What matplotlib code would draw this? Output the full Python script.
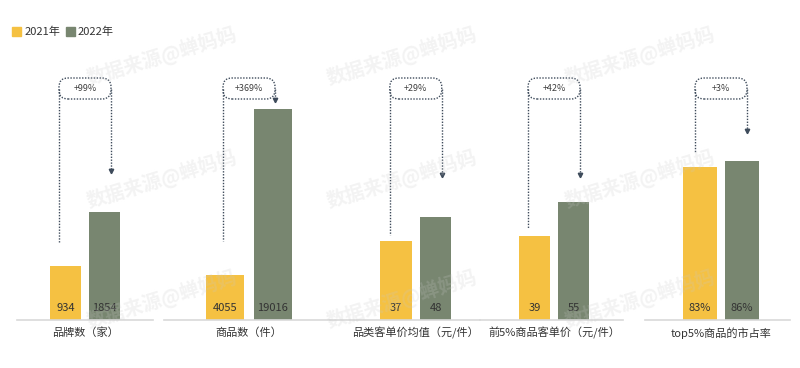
import matplotlib
matplotlib.use("Agg")
import matplotlib.pyplot as plt
from matplotlib.patches import Patch, FancyBboxPatch
from matplotlib.lines import Line2D
from matplotlib.transforms import Affine2D, ScaledTranslation, blended_transform_factory

plt.rcParams['font.family'] = ['Noto Sans CJK SC', 'DejaVu Sans']

# 数据
categories = ["品牌数（家）", "商品数（件）", "品类客单价均值（元/件）",
              "前5%商品客单价（元/件）", "top5%商品的市占率"]
years = ["2021年", "2022年"]
v2021 = [934, 4055, 37, 39, 83]
v2022 = [1854, 19016, 48, 55, 86]
growth = ["+99%", "+369%", "+29%", "+42%", "+3%"]
suffix = ["", "", "", "", "%"]

# 版式（像素，原图 800x368）
W, H = 800, 368
base_y, top_y = 320, 60
# 每组: 轴左, 轴右, 2021柱中心, 两柱间距
axes_px = [(17, 153, 65.5, 39), (164, 330, 225, 48), (330, 480, 396, 39.5),
           (480, 623, 534.5, 39), (645, 790, 700, 42)]
ymax = [4460, 23430, 121.2, 121.2, 140.6]
left_end = [78, 79, 85, 91, 168]    # 左虚线下端，距底线
tip_end = [147, 218, 143, 143, 187]  # 箭头尖，距底线

c21 = "#F5C142"
c22 = "#788670"
lc = "#3E4B5B"
txt = "#333333"

fig = plt.figure(figsize=(W / 100, H / 100), dpi=100)
fig.patch.set_facecolor("white")
pxs = Affine2D().scale(fig.dpi / 100)

for i, (l, r, cy, sp) in enumerate(axes_px):
    ax = fig.add_axes([l / W, (H - base_y) / H, (r - l) / W, (base_y - top_y) / H])
    vals = [v2021[i], v2022[i]]
    ax.bar([0, 1], vals, width=0.8, color=[c21, c22], zorder=2)
    ax.set_xlim(-(cy - l) / sp, 1 + (r - cy - sp) / sp)
    ax.set_ylim(0, ymax[i])
    for s in ["top", "left", "right"]:
        ax.spines[s].set_visible(False)
    ax.spines["bottom"].set_color("#D9D9D9")
    ax.spines["bottom"].set_linewidth(1.2)
    ax.set_yticks([])
    ax.set_xticks([0.5], [categories[i]])
    ax.tick_params(axis="x", length=0, pad=5, labelsize=8, labelcolor=txt)
    ax.patch.set_alpha(0)

    for xi, v in enumerate(vals):
        ax.annotate(f"{v}{suffix[i]}", xy=(xi, 0), xytext=(0, 8.6),
                    textcoords="offset points", ha="center", va="center",
                    fontsize=8, color=txt, zorder=3)

    # 增长率标注
    anchor = ScaledTranslation(0.5, 0, blended_transform_factory(ax.transData, ax.transAxes))
    t = pxs + anchor
    ls = (0, (1, 1.1))
    box = FancyBboxPatch((-26, 221), 52, 21, boxstyle="round,pad=0,rounding_size=9",
                         transform=t, fill=False, ec=lc, lw=1, ls=ls, clip_on=False)
    ax.add_artist(box)
    ax.add_artist(Line2D([-26, -26], [231.5, left_end[i]], transform=t, color=lc,
                         lw=1, ls=ls, clip_on=False))
    ax.add_artist(Line2D([26, 26], [231.5, tip_end[i] + 3], transform=t, color=lc,
                         lw=1, ls=ls, clip_on=False))
    ax.add_artist(Line2D([26], [tip_end[i] + 2], transform=t, color=lc, marker="v",
                         ms=3.2, ls="none", clip_on=False))
    ax.text(0, 231.5, growth[i], transform=t, ha="center", va="center",
            fontsize=6.5, color="#404040", clip_on=False)

fig.legend(handles=[Patch(color=c21, label=years[0]), Patch(color=c22, label=years[1])],
           loc="upper left", bbox_to_anchor=(12 / W, 1 - 27 / H), ncol=2, frameon=False,
           fontsize=8, handlelength=0.8, handleheight=0.8, handletextpad=0.3,
           columnspacing=0.5, borderaxespad=0, borderpad=0, labelcolor=txt)

# 水印
for wx in [162, 402, 640]:
    for wy in [57, 180, 300]:
        fig.text(wx / W, 1 - wy / H, "数据来源@蝉妈妈", rotation=17, rotation_mode="anchor",
                 ha="center", va="center", fontsize=14, fontweight="bold",
                 color="#c8c8c8", alpha=0.22, zorder=10)

fig.savefig("out.png", dpi=100, facecolor="white")
